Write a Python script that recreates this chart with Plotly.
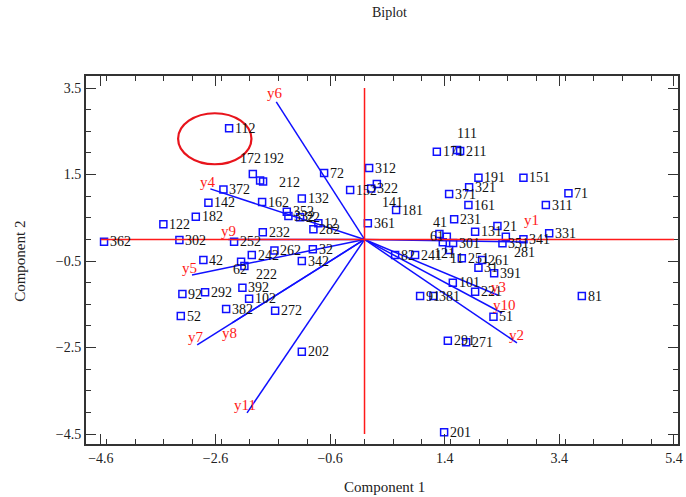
import plotly.graph_objects as go

# ---- data: observation scores ----
labels = ["112","172","192","212","372","142","182","122","362","302",
          "252","232","42","62","222","242","262","92","292","392",
          "102","382","52","272","202","32","342","162","132","352",
          "22","332","12","282","72","152","322","312","82","141",
          "181","361","171","111","211","191","151","321","371","71",
          "161","311","231","131","21","281","351","341","331","41",
          "61","301","121","11","251","261","31","391","101","221",
          "91","381","51","291","271","201","81","241"]
pc1 = [-2.363,-1.949,-1.822,-1.770,-2.462,-2.724,-2.944,-3.510,-4.545,-3.230,
       -2.276,-1.775,-2.812,-2.154,-2.096,-1.967,-1.572,-3.178,-2.782,-2.131,
       -2.014,-2.415,-3.206,-1.560,-1.094,-0.902,-1.094,-1.787,-1.094,-1.356,
       -1.124,-1.328,-0.805,-0.892,-0.705,-0.251,0.115,0.080,0.534,0.215,
       0.551,0.058,1.262,1.611,1.668,1.988,2.773,1.825,1.476,3.558,
       1.813,3.164,1.564,1.930,2.319,2.466,2.407,2.773,3.222,1.307,
       1.436,1.546,1.366,1.476,1.698,2.052,1.988,2.262,1.541,1.930,
       0.970,1.202,2.250,1.454,1.773,1.389,3.792,0.883]
pc2 = [2.569,1.512,1.362,1.339,1.158,0.849,0.525,0.349,-0.053,-0.014,
       -0.053,0.164,-0.476,-0.516,-0.615,-0.361,-0.257,-1.262,-1.223,-1.117,
       -1.371,-1.609,-1.771,-1.649,-2.597,-0.229,-0.499,0.865,0.950,0.640,
       0.511,0.541,0.372,0.234,1.535,1.142,1.181,1.651,-0.361,1.281,
       0.680,0.372,2.028,2.067,2.044,1.427,1.427,1.205,1.050,1.066,
       0.795,0.795,0.465,0.178,0.310,0.062,-0.090,0.002,0.141,0.125,
       0.062,-0.083,-0.067,-0.245,-0.437,-0.476,-0.654,-0.784,-1.001,-1.209,
       -1.309,-1.309,-1.787,-2.342,-2.379,-4.460,-1.309,-0.361]

# ---- data: variable loadings (vectors) ----
var_names = ["y1","y2","y3","y4","y5","y6","y7","y8","y9","y10","y11"]
var_x = [2.84, 2.66, 2.33, -2.69, -3.01, -1.54, -2.92, -2.31, -2.38, 2.40, -2.05]
var_y = [-0.06, -2.39, -1.29, 1.17, -0.82, 3.18, -2.44, -1.93, 0.00, -1.70, -4.01]

x_ticks_start, y_ticks_start = -4.6, -4.5
highlighted = "112"

# ---- styles ----
BLUE = "#1010ff"
RED = "#ff1a1a"
SERIF = "Liberation Serif, Times New Roman, serif"

# label centre offsets (px, dx right, dy down) for labels not placed to the right
label_offsets = {
    "172": (-2, -16), "192": (13, -22), "212": (26, 1), "111": (10, -17),
    "41": (1, -12), "61": (-10, 0), "121": (2, 11), "11": (7, 8),
    "281": (19, 16), "141": (16, 18), "62": (-1, 8), "222": (22, 8),
}
# vector label offsets (px) relative to the vector tip
var_label_offsets = {
    "y1": (4, -22), "y2": (0, -8), "y3": (0, -8), "y4": (-2, -7),
    "y5": (-3, -7), "y6": (-1, -9), "y7": (-1, -8), "y8": (-3, 10),
    "y9": (0, -8), "y10": (2, -8), "y11": (-2, -8),
}
# highlight ellipse around the highlighted point (data-unit offsets / half sizes)
ell_dx, ell_dy, ell_rx, ell_ry = -0.25, -0.24, 0.64, 0.59

fig = go.Figure()

# reference lines through origin
fig.add_shape(type="line", x0=-4.6, x1=5.4, y0=0, y1=0,
              line=dict(color=RED, width=1.5), layer="above")
fig.add_shape(type="line", x0=0, x1=0, y0=-4.5, y1=3.5,
              line=dict(color=RED, width=1.5), layer="above")

# vectors
for name, vx, vy in zip(var_names, var_x, var_y):
    fig.add_trace(go.Scatter(x=[0, vx], y=[0, vy], mode="lines",
                             line=dict(color=BLUE, width=1.5),
                             hoverinfo="skip", showlegend=False))

# points
fig.add_trace(go.Scatter(x=pc1, y=pc2, mode="markers",
                         marker=dict(symbol="square-open", size=7,
                                     color=BLUE, line=dict(width=1.5, color=BLUE)),
                         text=labels, showlegend=False))

# highlight ellipse
hi = labels.index(highlighted)
cx, cy = pc1[hi] + ell_dx, pc2[hi] + ell_dy
fig.add_shape(type="circle", x0=cx - ell_rx, x1=cx + ell_rx,
              y0=cy - ell_ry, y1=cy + ell_ry,
              line=dict(color="#e8141c", width=2.2))

annotations = []
for lab, px, py in zip(labels, pc1, pc2):
    if lab in label_offsets:
        dx, dy = label_offsets[lab]
        annotations.append(dict(x=px, y=py, text=lab, showarrow=False,
                                xanchor="center", yanchor="middle",
                                xshift=dx, yshift=-dy,
                                font=dict(family=SERIF, size=14, color="#111")))
    else:
        annotations.append(dict(x=px, y=py, text=lab, showarrow=False,
                                xanchor="left", yanchor="middle",
                                xshift=4, yshift=0,
                                font=dict(family=SERIF, size=14, color="#111")))

for name, vx, vy in zip(var_names, var_x, var_y):
    dx, dy = var_label_offsets[name]
    annotations.append(dict(x=vx, y=vy, text=name, showarrow=False,
                            xanchor="center", yanchor="middle",
                            xshift=dx, yshift=-dy,
                            font=dict(family=SERIF, size=15, color=RED)))

# title and axis titles
annotations.append(dict(x=0.513, y=1, xref="paper", yref="paper", yanchor="bottom",
                        yshift=54, text="Biplot", showarrow=False,
                        font=dict(family=SERIF, size=14, color="#222")))
annotations.append(dict(x=0.505, y=0, xref="paper", yref="paper",
                        xanchor="center", yanchor="middle", yshift=-43,
                        text="Component 1", showarrow=False,
                        font=dict(family=SERIF, size=15, color="#222")))
annotations.append(dict(x=0, y=0.495, xref="paper", yref="paper",
                        xanchor="center", yanchor="middle", xshift=-66,
                        text="Component 2", textangle=-90, showarrow=False,
                        font=dict(family=SERIF, size=15, color="#222")))

fig.update_layout(
    width=686, height=497,
    margin=dict(l=86, r=8, t=76, b=53),
    paper_bgcolor="white", plot_bgcolor="white",
    annotations=annotations,
    font=dict(family=SERIF, size=14, color="#222"),
)

axis_common = dict(
    showgrid=False, zeroline=False, showline=True, linecolor="#333", linewidth=2,
    mirror="ticks", ticks="inside", ticklen=10, tickwidth=1.2, tickcolor="#333",
    tickfont=dict(family=SERIF, size=14, color="#222"),
    minor=dict(ticks="inside", ticklen=5, tickwidth=1, tickcolor="#333", dtick=0.5),
    automargin=False,
)
fig.update_xaxes(range=[-4.86, 5.47], tick0=x_ticks_start, dtick=2, tickformat=".1f",
                 **axis_common)
fig.update_yaxes(range=[-4.73, 3.78], tick0=y_ticks_start, dtick=2, tickformat=".1f",
                 **axis_common)

fig.write_html("out.html")
